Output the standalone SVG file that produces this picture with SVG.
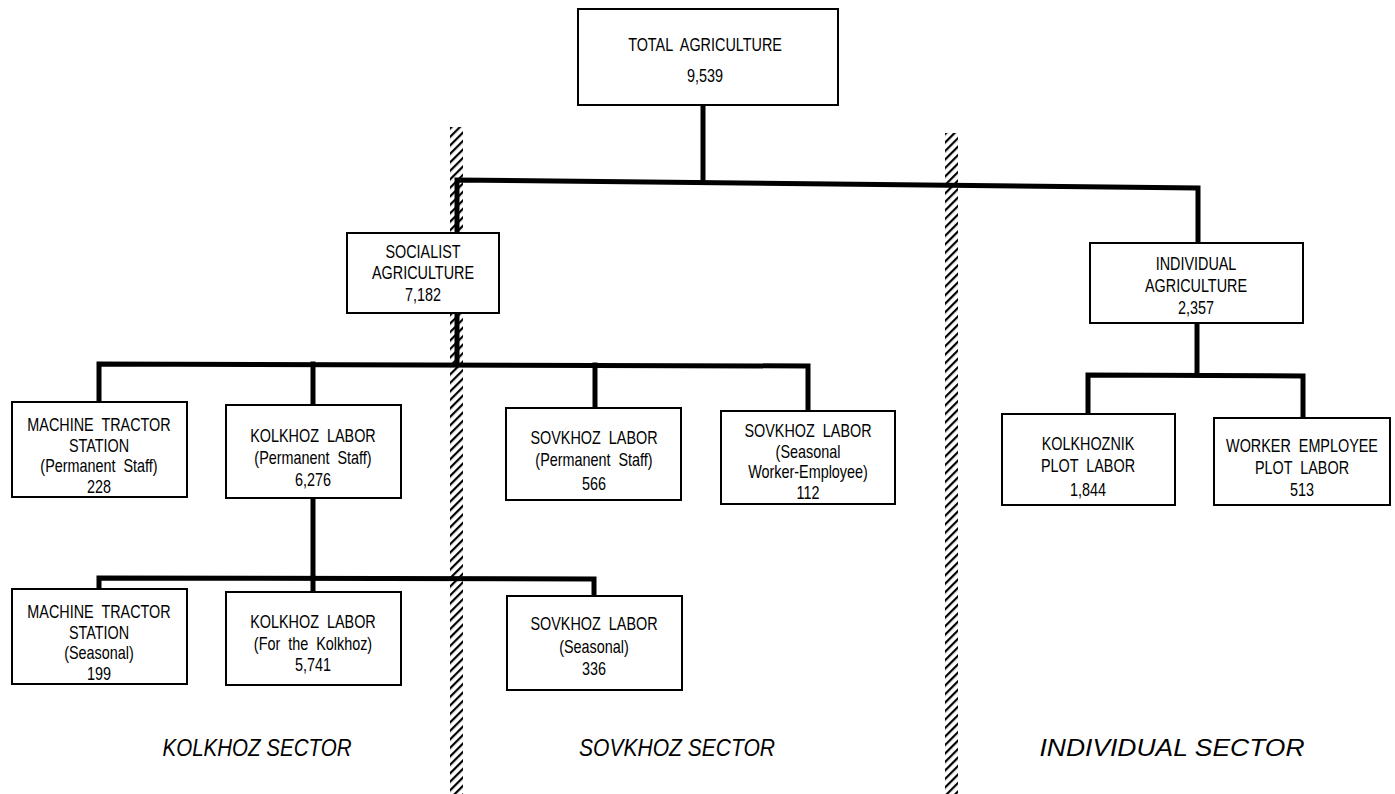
<svg xmlns="http://www.w3.org/2000/svg" width="1395" height="794" viewBox="0 0 1395 794">
<style>
.box{fill:#fff;stroke:#000;stroke-width:2}
.t{font-family:"Liberation Sans","Arimo",sans-serif;font-size:18px;text-anchor:middle;fill:#000;word-spacing:5px}
.c{fill:none;stroke:#000;stroke-width:5;stroke-linejoin:miter;stroke-linecap:square}
.s{font-family:"Liberation Sans","DejaVu Sans",sans-serif;font-style:italic;font-size:24px;fill:#000;text-anchor:middle}
</style>
<defs>
<pattern id="hatch" width="6" height="6" patternUnits="userSpaceOnUse" patternTransform="rotate(45)">
<rect x="0" y="0" width="2.2" height="6" fill="#000"/>
</pattern>
</defs>
<rect width="1395" height="794" fill="#fff"/>
<g id="dividers">
<rect x="450" y="127" width="13" height="667" fill="url(#hatch)"/>
<rect x="945" y="133" width="13" height="661" fill="url(#hatch)"/>
</g>
<g id="connectors">
<line class="c" x1="703" y1="105" x2="703" y2="181"/>
<polyline class="c" points="457,233 457,180 1198,188 1198,243"/>
<line class="c" x1="457" y1="313" x2="457" y2="364"/>
<polyline class="c" points="99,402 99,364 808,366 808,411"/>
<line class="c" x1="313" y1="364" x2="313" y2="405"/>
<line class="c" x1="595" y1="365" x2="595" y2="408"/>
<line class="c" x1="313" y1="498" x2="313" y2="578"/>
<polyline class="c" points="99,590 99,578 594,579 594,596"/>
<line class="c" x1="313" y1="578" x2="313" y2="592"/>
<line class="c" x1="1197" y1="323" x2="1197" y2="375"/>
<polyline class="c" points="1088,414 1088,375 1303,376 1303,418"/>
</g>
<g id="total">
<rect class="box" x="578" y="9" width="260" height="96"/>
<text class="t" transform="translate(705,51) scale(.8,1)">TOTAL AGRICULTURE</text>
<text class="t" transform="translate(705,82) scale(.8,1)">9,539</text>
</g>
<g id="socialist">
<rect class="box" x="347" y="233" width="152" height="80"/>
<text class="t" transform="translate(423,258) scale(.8,1)">SOCIALIST</text>
<text class="t" transform="translate(423,279) scale(.8,1)">AGRICULTURE</text>
<text class="t" transform="translate(423,301) scale(.8,1)">7,182</text>
</g>
<g id="mts-perm">
<rect class="box" x="12" y="402" width="175" height="95"/>
<text class="t" transform="translate(99,431) scale(.8,1)">MACHINE TRACTOR</text>
<text class="t" transform="translate(99,451.5) scale(.8,1)">STATION</text>
<text class="t" transform="translate(99,472) scale(.8,1)">(Permanent Staff)</text>
<text class="t" transform="translate(99,492.5) scale(.8,1)">228</text>
</g>
<g id="kolkhoz-perm">
<rect class="box" x="226" y="405" width="175" height="93"/>
<text class="t" transform="translate(313,442) scale(.8,1)">KOLKHOZ LABOR</text>
<text class="t" transform="translate(313,463.5) scale(.8,1)">(Permanent Staff)</text>
<text class="t" transform="translate(313,486) scale(.8,1)">6,276</text>
</g>
<g id="sovkhoz-perm">
<rect class="box" x="506" y="408" width="175" height="92"/>
<text class="t" transform="translate(594,444) scale(.8,1)">SOVKHOZ LABOR</text>
<text class="t" transform="translate(594,465.5) scale(.8,1)">(Permanent Staff)</text>
<text class="t" transform="translate(594,490) scale(.8,1)">566</text>
</g>
<g id="sovkhoz-seasonal-we">
<rect class="box" x="721" y="411" width="174" height="93"/>
<text class="t" transform="translate(808,437) scale(.8,1)">SOVKHOZ LABOR</text>
<text class="t" transform="translate(808,457.5) scale(.8,1)">(Seasonal</text>
<text class="t" transform="translate(808,478) scale(.8,1)">Worker-Employee)</text>
<text class="t" transform="translate(808,498.5) scale(.8,1)">112</text>
</g>
<g id="mts-seasonal">
<rect class="box" x="12" y="589" width="175" height="95"/>
<text class="t" transform="translate(99,618) scale(.8,1)">MACHINE TRACTOR</text>
<text class="t" transform="translate(99,638.5) scale(.8,1)">STATION</text>
<text class="t" transform="translate(99,659) scale(.8,1)">(Seasonal)</text>
<text class="t" transform="translate(99,679.5) scale(.8,1)">199</text>
</g>
<g id="kolkhoz-for">
<rect class="box" x="226" y="592" width="175" height="93"/>
<text class="t" transform="translate(313,628) scale(.8,1)">KOLKHOZ LABOR</text>
<text class="t" transform="translate(313,649.5) scale(.8,1)">(For the Kolkhoz)</text>
<text class="t" transform="translate(313,671) scale(.8,1)">5,741</text>
</g>
<g id="sovkhoz-seasonal">
<rect class="box" x="507" y="596" width="175" height="94"/>
<text class="t" transform="translate(594,630) scale(.8,1)">SOVKHOZ LABOR</text>
<text class="t" transform="translate(594,653) scale(.8,1)">(Seasonal)</text>
<text class="t" transform="translate(594,675) scale(.8,1)">336</text>
</g>
<g id="individual">
<rect class="box" x="1090" y="243" width="213" height="80"/>
<text class="t" transform="translate(1196,270) scale(.8,1)">INDIVIDUAL</text>
<text class="t" transform="translate(1196,292) scale(.8,1)">AGRICULTURE</text>
<text class="t" transform="translate(1196,314) scale(.8,1)">2,357</text>
</g>
<g id="kolkhoznik">
<rect class="box" x="1002" y="414" width="173" height="91"/>
<text class="t" transform="translate(1088,450) scale(.8,1)">KOLKHOZNIK</text>
<text class="t" transform="translate(1088,471.5) scale(.8,1)">PLOT LABOR</text>
<text class="t" transform="translate(1088,496) scale(.8,1)">1,844</text>
</g>
<g id="worker">
<rect class="box" x="1214" y="418" width="176" height="87"/>
<text class="t" transform="translate(1302,452) scale(.8,1)">WORKER EMPLOYEE</text>
<text class="t" transform="translate(1302,473.5) scale(.8,1)">PLOT LABOR</text>
<text class="t" transform="translate(1302,496) scale(.8,1)">513</text>
</g>
<g id="sectors">
<text class="s" x="257" y="756" textLength="189" lengthAdjust="spacingAndGlyphs">KOLKHOZ SECTOR</text>
<text class="s" x="677" y="756" textLength="196" lengthAdjust="spacingAndGlyphs">SOVKHOZ SECTOR</text>
<text class="s" x="1172" y="756" textLength="265" lengthAdjust="spacingAndGlyphs">INDIVIDUAL SECTOR</text>
</g>
</svg>
